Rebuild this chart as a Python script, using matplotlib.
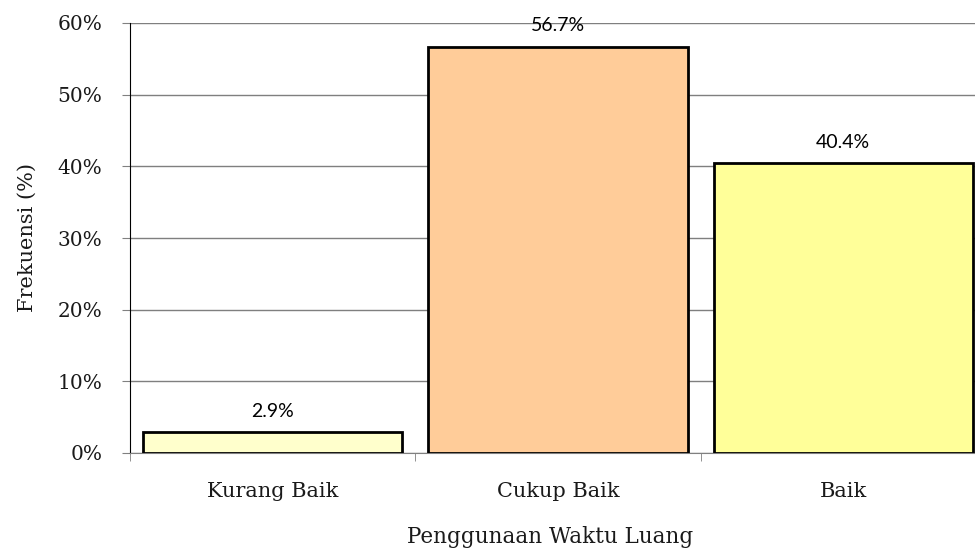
import matplotlib.pyplot as plt
from matplotlib.ticker import FuncFormatter

# Data
categories = ["Kurang Baik", "Cukup Baik", "Baik"]
values = [2.9, 56.7, 40.4]
bar_colors = ["#FFFFCC", "#FFCC99", "#FFFF99"]
y_ticks = [0, 10, 20, 30, 40, 50, 60]

SERIF = ["DejaVu Serif"]
SANS = ["Lato", "DejaVu Sans"]

fig = plt.figure(figsize=(9.75, 5.52), dpi=100)
# axes run a little past the right edge, as in the original
ax = fig.add_axes([130 / 975, 1 - 453 / 552, 856 / 975, 430 / 552])

x = list(range(len(categories)))
bars = ax.bar(x, values, width=0.91, color=bar_colors, edgecolor="black",
              linewidth=2, zorder=3)

ax.set_xlim(-0.5, len(categories) - 0.5)
ax.set_ylim(0, 60)
ax.set_yticks(y_ticks)
ax.yaxis.set_major_formatter(FuncFormatter(lambda v, _: f"{v:.0f}%"))
ax.grid(axis="y", color="#7f7f7f", linewidth=1, zorder=0)

# category labels in the middle, tick marks at the boundaries
ax.set_xticks(x)
ax.set_xticklabels(categories, fontsize=15, family=SERIF, color="#1a1a1a")
ax.tick_params(axis="x", length=0, pad=21)
ax.set_xticks([i - 0.5 for i in range(len(categories) + 1)], minor=True)
ax.tick_params(axis="x", which="minor", length=6, color="#808080", direction="out")

ax.tick_params(axis="y", length=6, pad=14, color="#808080", labelsize=14.5,
               labelcolor="#1a1a1a")
for lab in ax.get_yticklabels():
    lab.set_family(SERIF)

for side in ["top", "right"]:
    ax.spines[side].set_visible(False)
ax.spines["left"].set_color("black")
ax.spines["bottom"].set_color("#808080")

for b, v in zip(bars, values):
    ax.annotate(f"{v:.1f}%", (b.get_x() + b.get_width() / 2, v),
                xytext=(0, 9), textcoords="offset points",
                ha="center", va="bottom", fontsize=14, family=SANS)

ax.set_ylabel("Frekuensi (%)", fontsize=15, family=SERIF, labelpad=15,
              color="#1a1a1a")
fig.text(550 / 975, 1 - 537 / 552, "Penggunaan Waktu Luang", ha="center",
         va="center", fontsize=15.5, family=SERIF, color="#1a1a1a")

fig.savefig("out.png", dpi=100)
